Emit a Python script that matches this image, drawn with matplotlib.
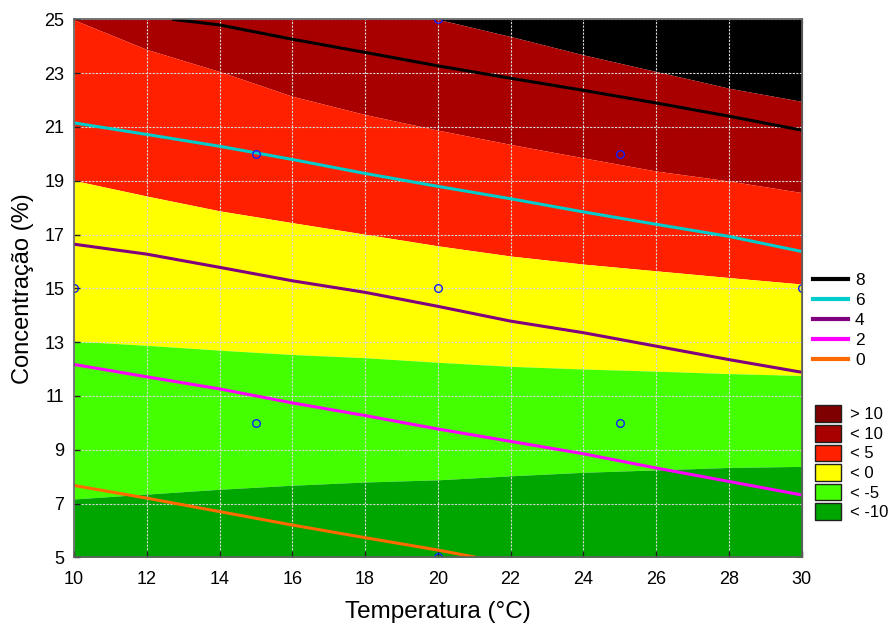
import numpy as np
import matplotlib
matplotlib.use("Agg")
import matplotlib.pyplot as plt
from matplotlib.lines import Line2D
from matplotlib.patches import Patch

plt.rcParams["font.family"] = ["Liberation Sans", "DejaVu Sans"]

xk = [10, 12, 14, 16, 18, 20, 22, 24, 26, 28, 30]

# filled-region boundaries (concentration, %) -- top to bottom
b_black = [25.0, 25.0, 25.0, 25.0, 25.0, 25.0, 24.36, 23.68, 23.06, 22.44, 21.95]
b_dkred = [24.98, 23.88, 23.06, 22.14, 21.46, 20.88, 20.35, 19.85, 19.36, 18.99, 18.56]
b_red = [19.01, 18.43, 17.88, 17.44, 17.01, 16.58, 16.20, 15.90, 15.65, 15.40, 15.16]
b_yellow = [13.04, 12.88, 12.70, 12.54, 12.42, 12.25, 12.10, 12.00, 11.92, 11.83, 11.76]
b_green = [7.17, 7.35, 7.53, 7.68, 7.80, 7.88, 8.03, 8.16, 8.25, 8.34, 8.38]

fill_colors = ["#000000", "#A80000", "#FF2000", "#FFFF00", "#44FF00", "#00A600"]
fill_labels = ["> 10", "< 10", "< 5", "< 0", "< -5", "< -10"]
legend_patch_colors = ["#7F0000", "#A80000", "#FF2000", "#FFFF00", "#44FF00", "#00A600"]

# overlaid contour lines
line_levels = ["8", "6", "4", "2", "0"]
line_colors = ["#000000", "#00CCCC", "#800080", "#FF00FF", "#FF6A00"]
line_x = [
    [12.7, 14, 16, 18, 20, 22, 24, 26, 28, 30],
    xk,
    xk,
    xk,
    [10, 12, 14, 16, 18, 20, 21.05],
]
line_y = [
    [25.0, 24.79, 24.26, 23.77, 23.27, 22.81, 22.36, 21.89, 21.40, 20.88],
    [21.15, 20.72, 20.28, 19.79, 19.27, 18.79, 18.33, 17.84, 17.38, 16.93, 16.37],
    [16.64, 16.27, 15.78, 15.28, 14.85, 14.33, 13.78, 13.35, 12.85, 12.35, 11.88],
    [12.17, 11.71, 11.26, 10.74, 10.27, 9.77, 9.31, 8.85, 8.32, 7.82, 7.32],
    [7.67, 7.20, 6.70, 6.20, 5.73, 5.27, 5.0],
]

# design points
pts_x = [15, 25, 20, 10, 20, 30, 15, 25, 20]
pts_y = [20, 20, 25, 15, 15, 15, 10, 10, 5]

fig = plt.figure(figsize=(8.93, 6.25), dpi=100)
ax = fig.add_axes([0.0829, 0.1083, 0.8148, 0.8608])

top = [25.0] * len(xk)
bottom = [5.0] * len(xk)
bounds = [top, b_black, b_dkred, b_red, b_yellow, b_green, bottom]
for i, c in enumerate(fill_colors):
    ax.fill_between(xk, bounds[i + 1], bounds[i], color=c, lw=0, zorder=1)

for lx, ly, c in zip(line_x, line_y, line_colors):
    ax.plot(lx, ly, color=c, lw=2.2, zorder=3, solid_capstyle="butt")

ax.plot(pts_x, pts_y, "o", ms=5.5, mfc="none", mec="#1020FF", mew=1.0, zorder=4)

ax.set_xlim(10, 30)
ax.set_ylim(5, 25)
ax.set_xticks(np.arange(10, 31, 2))
ax.set_yticks(np.arange(5, 26, 2))
ax.tick_params(direction="in", length=4, labelsize=13, width=1, color="#202020")
ax.tick_params(axis="x", pad=9.5)
ax.tick_params(axis="y", pad=7)
ax.grid(True, color="#D8D8D8", ls=(0, (2, 1.2)), lw=0.8, zorder=2)
ax.set_axisbelow(False)
for s in ax.spines.values():
    s.set_color("#606060")
    s.set_linewidth(1.2)
    s.set_zorder(5)

# secondary tick marks on top / right
sx = ax.secondary_xaxis("top")
sx.set_xticks(np.linspace(10, 30, 13))
sx.tick_params(direction="in", length=4, labeltop=False, color="#404040")
sy = ax.secondary_yaxis("right")
sy.set_yticks(np.linspace(5, 25, 12))
sy.tick_params(direction="in", length=4, labelright=False, color="#404040")
sx.spines["top"].set_color("#A0A0A0")
sy.spines["right"].set_color("#404040")

ax.set_xlabel("Temperatura (°C)", fontsize=17.5, labelpad=10)
ax.set_ylabel("Concentração (%)", fontsize=17, labelpad=7)

line_handles = [Line2D([], [], color=c, lw=3) for c in line_colors]
leg1 = fig.legend(line_handles, line_levels, loc="upper left",
                  bbox_to_anchor=(0.903, 0.575), frameon=False, fontsize=12.5,
                  handlelength=2.0, handletextpad=0.4, labelspacing=0.28,
                  borderaxespad=0)
patch_handles = [Patch(facecolor=c, edgecolor="#202020", lw=1)
                 for c in legend_patch_colors]
leg2 = fig.legend(patch_handles, fill_labels, loc="upper left",
                  bbox_to_anchor=(0.905, 0.362), frameon=False, fontsize=12,
                  handlelength=1.6, handleheight=1.15, handletextpad=0.5,
                  labelspacing=0.16, borderaxespad=0)

fig.savefig("out.png", dpi=100)
